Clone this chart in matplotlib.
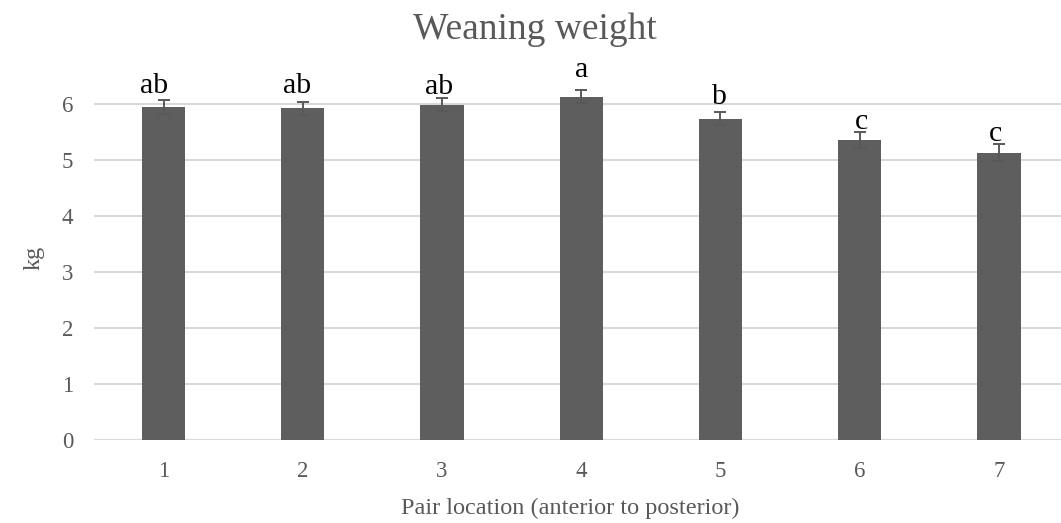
import matplotlib.pyplot as plt

# weaning weight by teat pair position
pairs = ["1", "2", "3", "4", "5", "6", "7"]
weight = [5.95, 5.92, 5.99, 6.13, 5.74, 5.36, 5.13]
sem = [0.13, 0.12, 0.12, 0.12, 0.12, 0.14, 0.15]
letters = ["ab", "ab", "ab", "a", "b", "c", "c"]

# hand placement of the significance letters (points from the error cap)
letter_dx = [-7.2, -4.3, -2.5, 0, -0.7, 1, -2.2]
letter_dy = [4.8, 6, 2.4, 9, 5.8, 2.2, 2.7]

grey = "#595959"
bar_grey = "#5e5e5e"

plt.rcParams["font.family"] = ["Liberation Serif", "DejaVu Serif"]

fig = plt.figure(figsize=(10.61, 5.23), dpi=100)
ax = fig.add_axes([0.0886, 0.1587, 0.9185, 0.696])

x = list(range(1, len(pairs) + 1))
ax.bar(x, weight, width=0.31, color=bar_grey, zorder=2)
ax.errorbar(x, weight, yerr=sem, fmt="none", ecolor=grey, elinewidth=1.4,
            capsize=4, capthick=1.4, zorder=3)

for i, lab in enumerate(letters):
    ax.annotate(lab, (x[i], weight[i] + sem[i]),
                xytext=(letter_dx[i], letter_dy[i]), textcoords="offset points",
                ha="center", va="baseline", fontsize=21.5, color="black")

ax.set_xlim(0.5, 7.5)
ax.set_ylim(0, 6.5)
ax.set_yticks(range(0, 7))
ax.set_xticks(x)
ax.set_xticklabels(pairs)
ax.yaxis.grid(True, color="#d9d9d9", linewidth=1.5, zorder=0)
ax.set_axisbelow(True)
for side in ["top", "right", "left", "bottom"]:
    ax.spines[side].set_visible(False)
ax.axhline(0, color="#d9d9d9", linewidth=1.5, zorder=1)
ax.tick_params(axis="both", length=0, labelsize=16.5, colors=grey)
ax.tick_params(axis="y", pad=15)
ax.tick_params(axis="x", pad=15)

ax.set_ylabel("kg", fontsize=17.5, color=grey, labelpad=12)
fig.text(570 / 1061, 1 - 508 / 523, "Pair location (anterior to posterior)",
         ha="center", va="center", fontsize=17.5, color=grey)
fig.text(535 / 1061, 1 - 30 / 523, "Weaning weight",
         ha="center", va="center", fontsize=27, color=grey)

fig.savefig("out.png", dpi=100)
